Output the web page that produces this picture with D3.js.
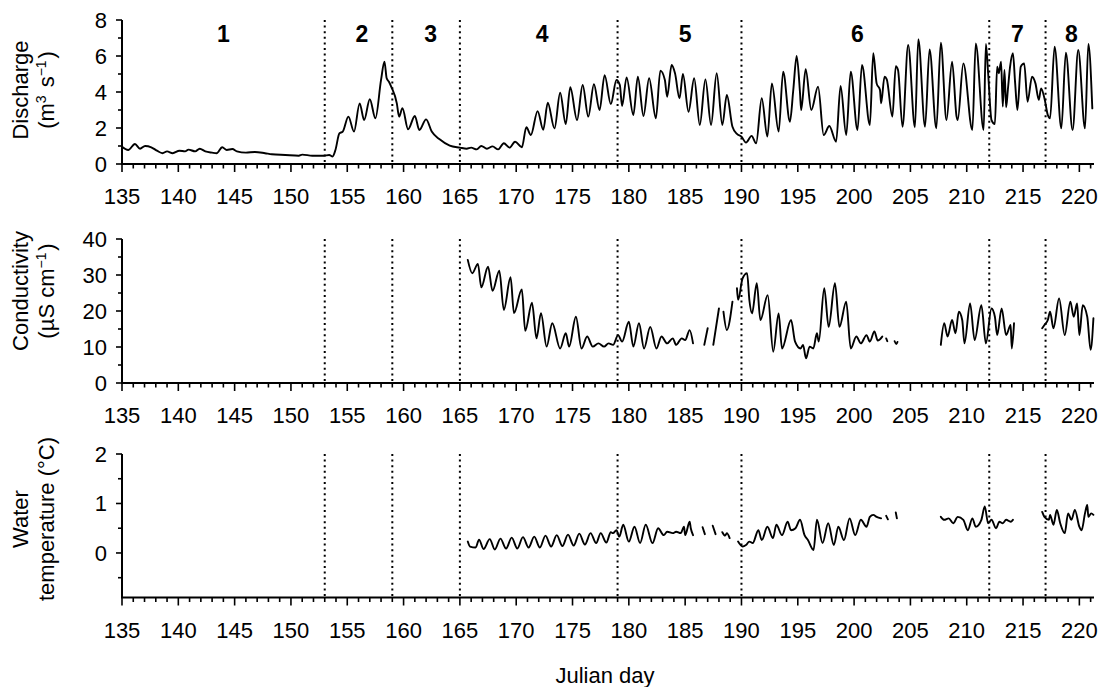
<!DOCTYPE html>
<html>
<head>
<meta charset="utf-8">
<script src="https://cdn.jsdelivr.net/npm/d3@7/dist/d3.min.js"></script>
<style>
  html, body { margin: 0; padding: 0; background: #fff; }
  svg { display: block; }
  text { font-family: "Liberation Sans", Arial, Helvetica, sans-serif; fill: #000; }
</style>
</head>
<body>
<svg id="chart" width="1112" height="687"></svg>
<script>
// Julian-day axis
const dayLabels = [135, 140, 145, 150, 155, 160, 165, 170, 175, 180, 185, 190, 195, 200, 205, 210, 215, 220];
const dayDomain = [135, 221.3];

// Period boundaries (dotted lines) and period numbers
const boundaries = [153, 159, 165, 179, 190, 212, 217];
const periodNames = ["1", "2", "3", "4", "5", "6", "7", "8"];
const periodLabelDays = [144, 156.3, 162.4, 172.3, 185, 200.3, 214.5, 219.3];

// Y tick labels for each panel
const dischargeTicks = [0, 2, 4, 6, 8];
const dischargeMinor = [1, 3, 5, 7];
const conductivityTicks = [0, 10, 20, 30, 40];
const conductivityMinor = [5, 15, 25, 35];
const temperatureTicks = [0, 1, 2];
const temperatureMinor = [-0.5, 0.5, 1.5];

// Discharge (m3 s-1): [julian day, value]
const discharge = [
  [135.0,0.96],[135.55,0.78],[136.15,1.11],[136.6,0.85],[137.05,1.0],[137.6,0.93],[138.1,0.74],[138.6,0.6],
  [139.0,0.7],[139.5,0.6],[140.1,0.74],[140.6,0.7],[140.9,0.8],[141.5,0.7],[141.9,0.85],[142.4,0.7],
  [143.0,0.63],[143.4,0.6],[143.9,0.93],[144.3,0.78],[144.8,0.83],[145.2,0.7],[146.0,0.63],[146.8,0.67],
  [147.7,0.6],[148.3,0.54],[149.5,0.5],[150.7,0.46],[151.0,0.52],[151.9,0.46],[152.9,0.46],[153.4,0.5],
  [153.7,0.42],[153.95,0.78],[154.3,1.7],[154.6,1.8],[155.1,2.63],[155.6,1.8],[156.1,3.37],[156.5,2.44],
  [157.0,3.6],[157.5,2.54],[158.0,4.67],[158.3,5.69],[158.5,4.76],[158.7,4.57],[158.9,4.3],[159.4,3.37],
  [159.6,2.63],[159.9,3.1],[160.4,1.93],[161.0,2.67],[161.4,1.89],[162.0,2.48],[162.5,1.8],[163.2,1.37],
  [164.1,1.02],[165.0,0.91],[165.6,0.85],[166.0,0.91],[166.5,0.81],[166.9,1.0],[167.4,0.85],[167.9,0.98],
  [168.4,0.81],[168.9,1.15],[169.4,0.91],[169.9,1.24],[170.5,0.93],[170.9,2.04],[171.3,1.61],[171.9,2.94],
  [172.4,1.9],[172.8,3.4],[173.4,1.98],[173.9,3.96],[174.4,2.22],[174.8,4.26],[175.4,2.44],[175.9,4.39],
  [176.4,2.63],[176.9,4.43],[177.4,3.0],[177.85,4.94],[178.4,3.33],[178.9,4.67],[179.2,4.39],[179.4,3.22],
  [179.8,4.81],[180.4,2.72],[180.8,4.85],[181.3,2.67],[181.8,4.76],[182.4,2.54],[182.8,5.19],[183.2,4.67],
  [183.4,3.74],[183.8,5.5],[184.1,5.04],[184.5,3.65],[184.8,5.0],[185.3,2.9],[185.8,4.76],[186.3,2.17],
  [186.8,4.7],[187.3,2.17],[187.8,5.04],[188.3,2.17],[188.7,3.83],[189.2,2.07],[189.6,1.67],[190.0,1.52],
  [190.4,1.19],[190.9,1.56],[191.3,1.15],[191.8,3.65],[192.3,1.52],[192.7,4.48],[193.3,1.8],[193.7,5.13],
  [194.3,2.35],[194.6,4.11],[194.9,6.0],[195.2,3.93],[195.3,3.0],[195.7,5.26],[196.2,3.0],[196.8,4.3],
  [197.3,1.61],[197.8,2.11],[198.4,1.24],[198.8,4.33],[199.3,1.61],[199.7,5.13],[200.3,1.89],[200.7,5.5],
  [201.4,2.17],[201.7,6.15],[202.0,4.48],[202.3,4.11],[202.4,3.37],[202.7,4.85],[202.9,4.7],[203.4,2.63],
  [203.7,5.44],[203.9,5.22],[204.3,2.07],[204.8,6.61],[205.4,2.04],[205.7,6.93],[206.3,2.07],[206.7,6.37],
  [207.3,1.98],[207.7,6.74],[208.2,2.44],[208.7,5.69],[209.1,2.63],[209.2,2.44],[209.7,5.59],[210.5,1.89],
  [210.8,6.7],[211.5,1.89],[211.7,6.67],[211.9,5.04],[212.2,2.44],[212.5,2.22],[212.7,5.41],[212.85,5.04],
  [213.05,5.69],[213.2,3.19],[213.35,5.22],[213.5,3.15],[213.65,4.11],[213.85,5.41],[214.1,6.15],[214.3,4.48],
  [214.5,3.0],[214.8,5.41],[215.1,5.59],[215.4,3.46],[215.8,4.85],[216.1,4.48],[216.4,3.56],[216.6,4.2],
  [216.9,3.65],[217.2,2.72],[217.4,2.54],[217.8,6.52],[218.4,1.98],[218.8,6.19],[219.4,1.89],[219.9,6.33],
  [220.5,1.98],[220.8,6.67],[221.15,3.09]
];

// Conductivity (uS cm-1): null values mark gaps in the record
const conductivity = [
  [165.7,34.2],[166.1,30.5],[166.6,33.1],[166.9,26.6],[167.5,32.3],[167.9,25.6],[168.5,31.2],[168.9,20.3],
  [169.5,29.4],[169.8,19.4],[170.5,26.0],[170.8,14.5],[171.4,22.3],[171.8,12.4],[172.2,19.4],[172.7,10.1],
  [173.2,16.6],[173.9,9.6],[174.4,13.8],[174.7,10.1],[175.3,18.4],[175.8,9.6],[176.3,12.9],[176.8,10.1],
  [177.3,11.0],[177.8,10.1],[178.2,11.0],[178.6,10.6],[179.05,13.3],[179.4,11.5],[180.0,17.0],[180.4,10.1],
  [180.9,16.6],[181.35,9.6],[181.9,15.6],[182.45,9.6],[182.9,12.9],[183.4,11.0],[183.9,12.4],[184.2,10.6],
  [184.7,12.4],[185.0,11.9],[185.4,14.7],[185.7,11.0],
  [186.0,null],
  [186.7,10.6],[187.0,15.2],
  [187.2,null],
  [187.5,10.6],[188.0,20.7],
  [188.2,null],
  [188.4,19.8],[188.7,14.7],[189.2,22.6],
  [189.4,null],
  [189.6,26.3],[189.7,23.1],[190.1,29.1],[190.5,30.5],[190.7,23.1],[190.94,19.35],[191.36,27.7],[191.68,17.5],
  [192.33,24.4],[192.82,8.7],[193.3,19.35],[193.6,9.6],[194.4,17.5],[194.76,11.5],[195.25,9.6],[195.47,10.6],
  [195.73,6.85],[196.05,10.1],[196.38,9.6],[196.7,13.8],[196.86,11.5],[197.35,26.3],[197.74,15.6],[198.3,27.7],
  [198.7,15.6],[199.3,22.6],[199.7,9.6],[200.2,12.9],[200.6,11.0],[201.1,13.3],[201.4,11.5],[201.8,14.3],
  [202.1,11.8],[202.5,12.9],
  [202.7,null],
  [202.85,12.4],[202.95,11.6],
  [203.3,null],
  [203.6,11.6],[203.75,10.8],[203.85,11.4],
  [205.0,null],
  [207.7,10.6],[208.0,16.6],[208.3,12.9],[208.7,17.5],[209.0,13.8],[209.3,19.8],[209.6,17.5],[209.8,11.0],
  [210.3,22.1],[210.7,11.9],[211.3,21.6],[211.7,11.0],[212.2,20.7],[212.5,18.4],[212.7,13.3],[213.1,20.7],
  [213.5,13.3],[213.9,16.1],[214.0,9.6],[214.2,16.6],
  [215.0,null],
  [216.7,15.2],[216.9,16.1],[217.2,17.5],[217.4,19.8],[217.7,15.2],[218.2,23.5],[218.7,13.3],[219.2,22.6],
  [219.5,18.4],[219.8,22.1],[220.0,13.3],[220.3,21.6],[220.7,18.4],[221.0,9.2],[221.25,18.0]
];

// Water temperature (deg C): null values mark gaps in the record
const temperature = [
  [165.7,0.23],[165.9,0.13],[166.4,0.11],[166.7,0.27],[167.1,0.08],[167.65,0.28],[168.1,0.07],[168.6,0.29],
  [169.1,0.09],[169.6,0.31],[170.1,0.09],[170.6,0.32],[171.1,0.11],[171.6,0.33],[172.1,0.11],[172.6,0.35],
  [173.1,0.13],[173.6,0.36],[174.1,0.14],[174.6,0.37],[175.1,0.15],[175.6,0.39],[176.1,0.17],[176.6,0.40],
  [177.1,0.2],[177.5,0.40],[178.0,0.21],[178.4,0.42],[178.6,0.4],[178.9,0.46],[179.15,0.33],[179.5,0.57],
  [180.0,0.23],[180.5,0.53],[181.0,0.2],[181.5,0.57],[182.1,0.2],[182.6,0.5],[183.1,0.36],[183.4,0.43],
  [183.9,0.4],[184.2,0.43],[184.6,0.4],[184.9,0.53],[185.0,0.36],[185.4,0.63],[185.5,0.5],[185.7,0.36],
  [186.0,null],
  [186.55,0.52],[186.75,0.38],
  [187.0,null],
  [187.45,0.55],[187.7,0.38],
  [188.0,null],
  [188.3,0.42],[188.55,0.35],[188.7,0.4],[188.95,0.3],
  [189.3,null],
  [189.7,0.23],[190.1,0.13],[190.4,0.16],[190.7,0.23],[191.0,0.2],[191.5,0.46],[191.8,0.26],[192.3,0.53],
  [192.8,0.3],[193.1,0.57],[193.6,0.36],[194.1,0.63],[194.4,0.46],[194.8,0.5],[195.2,0.67],[195.6,0.36],
  [195.9,0.26],[196.4,0.06],[196.7,0.67],[197.2,0.2],[197.7,0.6],[198.2,0.16],[198.6,0.53],[199.1,0.26],
  [199.6,0.7],[200.1,0.36],[200.6,0.67],[201.1,0.53],[201.4,0.73],[201.7,0.77],[202.0,0.73],[202.4,0.7],
  [202.6,null],
  [202.85,0.75],[203.0,0.68],
  [203.4,null],
  [203.7,0.82],[203.8,0.7],
  [205.0,null],
  [207.7,0.73],[208.0,0.67],[208.4,0.7],[208.8,0.6],[209.2,0.73],[209.7,0.67],[210.1,0.46],[210.5,0.7],
  [210.8,0.53],[211.3,0.67],[211.6,0.94],[211.9,0.6],[212.2,0.67],[212.6,0.5],[212.9,0.63],[213.2,0.6],
  [213.5,0.67],[213.9,0.63],[214.1,0.67],
  [215.0,null],
  [216.7,0.83],[216.9,0.73],[217.3,0.67],[217.4,0.77],[217.7,0.57],[218.0,0.87],[218.3,0.6],[218.7,0.4],
  [219.0,0.8],[219.3,0.67],[219.6,0.87],[220.0,0.53],[220.2,0.46],[220.5,0.8],[220.7,0.97],[220.8,0.73],
  [221.05,0.8],[221.25,0.77]
];

const FONT = 22;
const svg = d3.select("#chart");
svg.append("rect").attr("width", 1112).attr("height", 687).attr("fill", "#fff");

const x = d3.scaleLinear().domain(dayDomain).range([122, 1094]);
const allDays = d3.range(135, 222);

const panels = [
  { data: discharge, domain: [0, 8], range: [164, 20], major: dischargeTicks, minor: dischargeMinor,
    title: [["Discharge"], ["(m", {sup: "3"}, " s", {sup: "\u22121"}, ")"]], titleY: 90 },
  { data: conductivity, domain: [0, 40], range: [383, 239], major: conductivityTicks, minor: conductivityMinor,
    title: [["Conductivity"], ["(\u00b5S cm", {sup: "\u22121"}, ")"]], titleY: 291 },
  { data: temperature, domain: [-0.9, 2], range: [597.5, 454], major: temperatureTicks, minor: temperatureMinor,
    title: [["Water"], ["temperature (\u00b0C)"]], titleY: 519 }
];

panels.forEach((p, i) => {
  const y = d3.scaleLinear().domain(p.domain).range(p.range);
  const g = svg.append("g");
  const yBottom = p.range[0], yTop = p.range[1];

  // dotted period boundaries
  g.selectAll("line.bound").data(boundaries).join("line")
    .attr("x1", d => x(d)).attr("x2", d => x(d))
    .attr("y1", yTop).attr("y2", yBottom)
    .attr("stroke", "#000").attr("stroke-width", 2)
    .attr("stroke-dasharray", "2,3.6");

  // x axis line and ticks
  g.append("line").attr("x1", x(135) - 1).attr("x2", x(dayDomain[1]))
    .attr("y1", yBottom).attr("y2", yBottom).attr("stroke", "#000").attr("stroke-width", 2);
  g.selectAll("line.xt").data(allDays).join("line")
    .attr("x1", d => x(d)).attr("x2", d => x(d))
    .attr("y1", yBottom).attr("y2", d => yBottom + (dayLabels.includes(d) ? 8 : 4.5))
    .attr("stroke", "#000").attr("stroke-width", 1.6);
  g.selectAll("text.xl").data(dayLabels).join("text")
    .attr("x", d => x(d)).attr("y", yBottom + 40)
    .attr("text-anchor", "middle").attr("font-size", FONT)
    .text(d => d);

  // y axis line and ticks
  g.append("line").attr("x1", x(135)).attr("x2", x(135))
    .attr("y1", yTop).attr("y2", yBottom).attr("stroke", "#000").attr("stroke-width", 2);
  g.selectAll("line.ymaj").data(p.major).join("line")
    .attr("x1", x(135) - 6).attr("x2", x(135))
    .attr("y1", d => y(d)).attr("y2", d => y(d))
    .attr("stroke", "#000").attr("stroke-width", 1.6);
  g.selectAll("line.ymin").data(p.minor).join("line")
    .attr("x1", x(135) - 4).attr("x2", x(135))
    .attr("y1", d => y(d)).attr("y2", d => y(d))
    .attr("stroke", "#000").attr("stroke-width", 1.6);
  g.selectAll("text.yl").data(p.major).join("text")
    .attr("x", 107).attr("y", d => y(d)).attr("dy", "0.36em")
    .attr("text-anchor", "end").attr("font-size", FONT)
    .text(d => d);

  // data line, smoothed between the readings
  const line = d3.line()
    .defined(d => d[1] !== null)
    .x(d => x(d[0])).y(d => y(d[1]))
    .curve(d3.curveMonotoneX);
  g.append("path").datum(p.data)
    .attr("d", line).attr("fill", "none")
    .attr("stroke", "#000").attr("stroke-width", 1.9)
    .attr("stroke-linejoin", "round").attr("stroke-linecap", "round");

  // rotated two-line axis title
  const baselines = [28, 54];
  p.title.forEach((parts, li) => {
    const t = svg.append("text")
      .attr("transform", `translate(${baselines[li]},${p.titleY}) rotate(-90)`)
      .attr("text-anchor", "middle").attr("font-size", 22);
    parts.forEach(part => {
      if (typeof part === "string") {
        t.append("tspan").text(part);
      } else {
        t.append("tspan").attr("dy", -8).attr("font-size", 14).text(part.sup);
        t.append("tspan").attr("dy", 8).attr("font-size", 22).text("\u200a");
      }
    });
  });
});

// period numbers on the discharge panel
svg.selectAll("text.period").data(periodNames).join("text")
  .attr("x", (d, i) => x(periodLabelDays[i])).attr("y", 42)
  .attr("text-anchor", "middle").attr("font-size", 23).attr("font-weight", "bold")
  .text(d => d);

// shared x-axis title
svg.append("text").attr("x", 605).attr("y", 683)
  .attr("text-anchor", "middle").attr("font-size", 22).text("Julian day");
</script>
</body>
</html>
